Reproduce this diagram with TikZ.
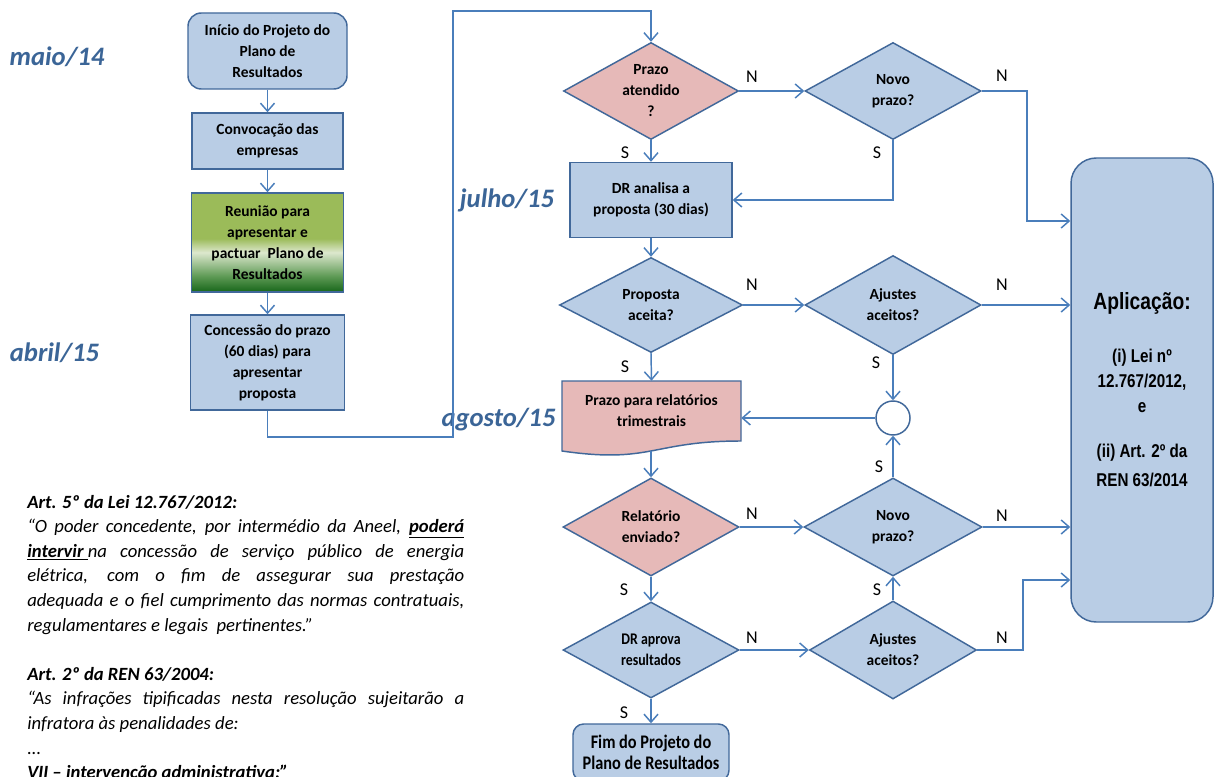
\documentclass[tikz,border=0pt]{standalone}
\usepackage{fontspec}
\setmainfont{Carlito}
\newfontfamily\narrowcal[FakeStretch=0.85]{Carlito}
\newfontfamily\arialn[FakeStretch=0.82]{Liberation Sans}
\usetikzlibrary{shapes.geometric,arrows.meta}
\definecolor{boxfill}{HTML}{B9CDE5}
\definecolor{pinkfill}{HTML}{E6B9B8}
\definecolor{bord}{HTML}{41689A}
\definecolor{linec}{HTML}{4A7EBB}
\definecolor{datec}{HTML}{3B6597}
\definecolor{gA}{HTML}{17661A}
\definecolor{gB}{HTML}{5E9A55}
\definecolor{gC}{HTML}{DDE8CE}
\definecolor{gD}{HTML}{9BBB59}
\pgfdeclareverticalshading{greensh}{100bp}{color(0bp)=(gA); color(25bp)=(gA); color(33bp)=(gB); color(45bp)=(gC); color(52bp)=(gD); color(75bp)=(gD); color(100bp)=(gD)}
\newcommand\boxf{\fontsize{11.6pt}{15.75pt}\selectfont\bfseries}
\newcommand\fimf{\fontsize{14.4pt}{15.75pt}\selectfont\narrowcal\bfseries}
\newcommand\draf{\fontsize{12.2pt}{15.75pt}\selectfont\narrowcal\bfseries}
\newcommand\labf{\fontsize{13.5pt}{16pt}\selectfont}
\newcommand\datef{\fontsize{20pt}{24pt}\selectfont\bfseries\itshape}
\newcommand\aplbigf{\fontsize{17.6pt}{20pt}\selectfont\arialn\bfseries}
\newcommand\aplf{\fontsize{13.9pt}{18pt}\selectfont\arialn\bfseries}
\newcommand\lawf{\fontsize{14pt}{18.45pt}\selectfont\itshape}
\begin{document}
\begin{tikzpicture}[x=0.75pt,y=-0.75pt,
  sz/.style 2 args={minimum width=#1*0.75pt, minimum height=#2*0.75pt},
  box/.style={rectangle, draw=bord, fill=boxfill, line width=1.1pt, align=center, inner sep=0pt, font=\boxf},
  dia/.style={diamond, draw=bord, fill=boxfill, line width=1.1pt, inner sep=0pt},
  dtext/.style={align=center, font=\boxf, inner sep=0pt},
  arr/.style={draw=linec, line width=1.1pt, -{Straight Barb[length=6pt,width=10.5pt]}},
  lab/.style={font=\labf, inner sep=0pt},
  datelab/.style={font=\datef, text=datec, inner sep=0pt},
  apltext/.style={font=\aplf, inner sep=0pt}]
\useasboundingbox (0,0) rectangle (1219,777);
\fill[white] (0,0) rectangle (1219,777);
\clip (0,0) rectangle (1219,777);

% dates
\node[datelab] (maio) at (57,57) {maio/14};
\node[datelab] (abril) at (54.5,353) {abril/15};
\node[datelab] (julho) at (507,200) {julho/15};
\node[datelab] (agosto) at (498.5,420) {agosto/15};

% left column
\node[box, sz={159}{76}, rounded corners=10pt] (b1) at (267.5,51) {Início do Projeto do\\Plano de\\Resultados};
\node[box, sz={151}{56}] (b2) at (267.5,141) {Convocação das\\empresas};
\node[box, sz={152}{99}, shading=greensh] (b3) at (267.5,242.5) {Reunião para\\apresentar e\\pactuar\ \ Plano de\\Resultados};
\node[box, sz={154}{95}] (b4) at (267.5,362.5) {Concessão do prazo\\(60 dias) para\\apresentar\\proposta};

% middle column
\node[dia, fill=pinkfill, sz={175}{97}, label={[dtext]center:Prazo\\atendido\\?}] (d1) at (651,91) {};
\node[box, sz={162}{75}] (r1) at (651,200) {DR analisa a\\proposta (30 dias)};
\node[dia, sz={183}{95}, label={[dtext]center:Proposta\\aceita?}] (d3) at (651,305) {};
\draw[draw=bord, fill=pinkfill, line width=1.1pt] (562,381) -- (741,381) -- (741,441) .. controls (651.5,441) and (651.5,464) .. (562,451) -- cycle;
\node[rectangle, inner sep=0pt, sz={179}{60}, align=center, font=\boxf] (doc) at (651.5,411) {Prazo para relatórios\\trimestrais};
\coordinate (docb) at (651,451);
\node[dia, fill=pinkfill, sz={176}{98}, label={[dtext]center:Relatório\\enviado?}] (d5) at (651,527) {};
\node[dia, sz={176}{96}, label={[dtext, font=\draf]center:DR aprova\\resultados}] (d7) at (651,650) {};
\node[box, sz={156}{57}, rounded corners=8pt, font=\fimf] (fim) at (651,752.5) {Fim do Projeto do\\Plano de Resultados};

% right column
\node[dia, sz={176}{97}, label={[dtext]center:Novo\\prazo?}] (d2) at (893,91) {};
\node[dia, sz={176}{99}, label={[dtext]center:Ajustes\\aceitos?}] (d4) at (893,305) {};
\node[circle, draw=bord, fill=white, line width=1.1pt, minimum size=25.5pt, inner sep=0pt] (cc) at (893,418) {};
\node[dia, sz={178}{98}, label={[dtext]center:Novo\\prazo?}] (d6) at (893,527) {};
\node[dia, sz={167}{98}, label={[dtext]center:Ajustes\\aceitos?}] (d8) at (893,650) {};

% application box
\node[box, sz={142}{464}, rounded corners=19pt] (apl) at (1142,390) {};
\node[font=\aplbigf, inner sep=0pt] (apl0) at (1142,303) {Aplicação:};
\node[apltext] (apl1) at (1142,358) {(i) Lei nº};
\node[apltext] (apl2) at (1142,382) {12.767/2012,};
\node[apltext] (apl3) at (1142,408) {e};
\node[apltext] (apl4) at (1142,453) {(ii) Art. 2º da};
\node[apltext] (apl5) at (1142,480) {REN 63/2014};

% connectors left column
\draw[arr] (b1.south) -- (b2.north);
\draw[arr] (b2.south) -- (b3.north);
\draw[arr] (b3.south) -- (b4.north);
\coordinate (c1) at (453,437);
\coordinate (c2) at (453,11);
\draw[arr] (b4.south) |- (c1) -- (c2) -| (d1.north);

% middle column
\draw[arr] (d1.south) -- (r1.north);
\draw[arr] (r1.south) -- (d3.north);
\draw[arr] (d3.south) -- (doc.north);
\draw[arr] (docb) -- (d5.north);
\draw[arr] (d5.south) -- (d7.north);
\draw[arr] (d7.south) -- (fim.north);

% horizontal
\draw[arr] (d1.east) -- (d2.west);
\draw[arr] (d3.east) -- (d4.west);
\draw[arr] (d5.east) -- (d6.west);
\draw[arr] (d7.east) -- (d8.west);

% right column
\draw[arr] (d2.south) |- (r1.east);
\draw[arr] (d4.south) -- (cc.north);
\draw[arr] (cc.west) -- (cc.west -| doc.east);
\draw[arr] (d6.north) -- (cc.south);
\draw[arr] (d8.north) -- (d6.south);

% to application
\coordinate (k1) at (1027,221);
\draw[arr] (d2.east) -| (k1) -- (k1 -| apl.west);
\draw[arr] (d4.east) -- (d4.east -| apl.west);
\draw[arr] (d6.east) -- (d6.east -| apl.west);
\coordinate (k2) at (1023,580);
\draw[arr] (d8.east) -| (k2) -- (k2 -| apl.west);

% labels N / S
\node[lab] (n1) at (752,77) {N};
\node[lab] (n2) at (1002,76) {N};
\node[lab] (n3) at (752,285) {N};
\node[lab] (n4) at (1002,285) {N};
\node[lab] (n5) at (752,514) {N};
\node[lab] (n6) at (1002,516) {N};
\node[lab] (n7) at (752,638) {N};
\node[lab] (n8) at (1002,638) {N};
\node[lab] (s1) at (625,153) {S};
\node[lab] (s2) at (877,153) {S};
\node[lab] (s3) at (625,367) {S};
\node[lab] (s4) at (876,363) {S};
\node[lab] (s5) at (879,467) {S};
\node[lab] (s6) at (624,590) {S};
\node[lab] (s7) at (877,590) {S};
\node[lab] (s8) at (624,713) {S};

% legal text
\node[anchor=base west, text width=327.75pt, align=justify, inner sep=0pt, font=\lawf] (law) at (27,508) {\sloppy
\textbf{Art. 5º da Lei 12.767/2012:}\\
“O poder concedente, por intermédio da Aneel, \textbf{\underline{poderá}}\linebreak
\textbf{\underline{intervir\ }}na concessão de serviço público de energia\linebreak
elétrica, com o fim de assegurar sua prestação\linebreak
adequada e o fiel cumprimento das normas contratuais,\linebreak
regulamentares e legais\ \ pertinentes.”\par
\vskip 18.45pt
\textbf{Art. 2º da REN 63/2004:}\\
“As infrações tipificadas nesta resolução sujeitarão a\linebreak
infratora às penalidades de:\par
...\par
\textbf{VII – intervenção administrativa;”}\par};
\end{tikzpicture}
\end{document}
